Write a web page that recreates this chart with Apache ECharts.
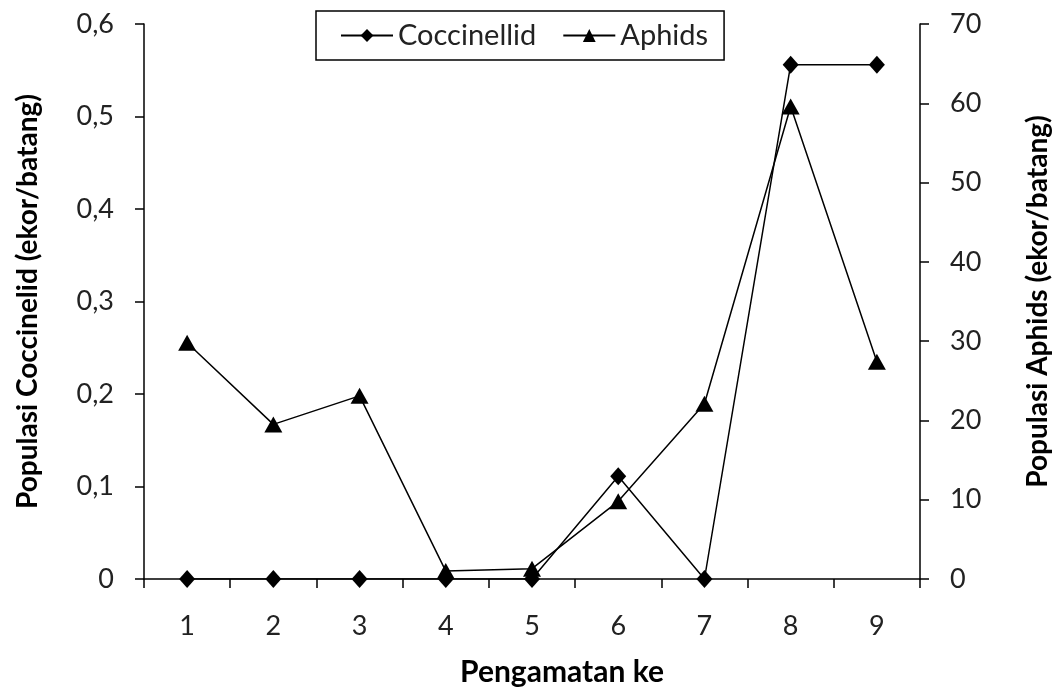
<!DOCTYPE html>
<html>
<head>
<meta charset="utf-8">
<script src="https://cdn.jsdelivr.net/npm/echarts@6/dist/echarts.min.js"></script>
<style>html,body{margin:0;padding:0;background:#fff;}#c{width:1054px;height:695px;}</style>
</head>
<body>
<div id="c"></div>
<script>
var categories = ['1','2','3','4','5','6','7','8','9'];
var coccinellid = [0, 0, 0, 0, 0, 0.111, 0, 0.556, 0.556];
var aphids = [29.8, 19.5, 23.1, 1.0, 1.3, 9.8, 22.1, 59.6, 27.4];
var leftTicks = {min: 0, max: 0.6, interval: 0.1};
var rightTicks = {min: 0, max: 70, interval: 10};

var FONT = 'Lato';
var chart = echarts.init(document.getElementById('c'));
chart.setOption({
  backgroundColor: '#fff',
  animation: false,
  grid: {left: 144, right: 134, top: 24, bottom: 116, containLabel: false, outerBoundsMode: 'none'},
  legend: {
    data: ['Coccinellid', 'Aphids'],
    left: 316, top: 11,
    itemWidth: 52, itemHeight: 16, itemGap: 26,
    itemStyle: {borderWidth: 0},
    padding: [10, 16, 10, 24],
    borderColor: '#000', borderWidth: 1.5, backgroundColor: '#fff',
    textStyle: {fontFamily: FONT, fontSize: 29, color: '#222'}
  },
  xAxis: {
    type: 'category', data: categories, boundaryGap: true,
    name: 'Pengamatan ke', nameLocation: 'middle', nameGap: 78,
    nameTextStyle: {fontFamily: FONT, fontSize: 30, fontWeight: 'bold', color: '#000', padding: [0, 0, 0, 60]},
    axisLine: {lineStyle: {color: '#000', width: 1.5}},
    axisTick: {show: true, inside: false, length: 9, lineStyle: {color: '#000', width: 1.5}},
    axisLabel: {fontFamily: FONT, fontSize: 27, color: '#222', margin: 34}
  },
  yAxis: [
    {
      type: 'value', min: leftTicks.min, max: leftTicks.max, interval: leftTicks.interval,
      position: 'left',
      name: 'Populasi Coccinelid (ekor/batang)', nameLocation: 'middle', nameGap: 102, nameRotate: 90,
      nameTextStyle: {fontFamily: FONT, fontSize: 28, fontWeight: 'bold', color: '#000'},
      axisLine: {show: true, lineStyle: {color: '#000', width: 1.5}},
      axisTick: {show: true, length: 9, lineStyle: {color: '#000', width: 1.5}},
      splitLine: {show: false},
      axisLabel: {fontFamily: FONT, fontSize: 27, color: '#222', margin: 30,
        formatter: function (v) { return v === 0 ? '0' : v.toFixed(1).replace('.', ','); }}
    },
    {
      type: 'value', min: rightTicks.min, max: rightTicks.max, interval: rightTicks.interval,
      position: 'right',
      name: 'Populasi Aphids (ekor/batang)', nameLocation: 'middle', nameGap: 104, nameRotate: 90,
      nameTextStyle: {fontFamily: FONT, fontSize: 28, fontWeight: 'bold', color: '#000'},
      axisLine: {show: true, lineStyle: {color: '#000', width: 1.5}},
      axisTick: {show: true, length: 9, lineStyle: {color: '#000', width: 1.5}},
      splitLine: {show: false},
      axisLabel: {fontFamily: FONT, fontSize: 27, color: '#222', margin: 30}
    }
  ],
  series: [
    {
      name: 'Coccinellid', type: 'line', yAxisIndex: 0, data: coccinellid,
      symbol: 'diamond', symbolSize: [16, 18],
      itemStyle: {color: '#000'}, lineStyle: {color: '#000', width: 1.5}
    },
    {
      name: 'Aphids', type: 'line', yAxisIndex: 1, data: aphids,
      symbol: 'triangle', symbolSize: [18, 16],
      itemStyle: {color: '#000'}, lineStyle: {color: '#000', width: 1.5}
    }
  ]
});
</script>
</body>
</html>
